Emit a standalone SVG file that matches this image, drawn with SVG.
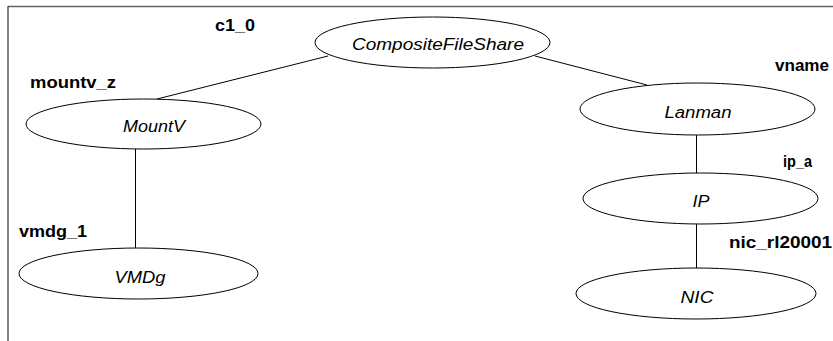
<svg xmlns="http://www.w3.org/2000/svg" width="833" height="341" viewBox="0 0 833 341">
<style>
.n{fill:#fff;stroke:#000;stroke-width:1}
.t{font-family:"Liberation Sans",Arial,sans-serif;font-style:italic;font-size:16px;fill:#000;text-anchor:middle}
.l{font-family:"Liberation Sans",Arial,sans-serif;font-weight:bold;font-size:16px;fill:#000}
.e{stroke:#000;stroke-width:1;fill:none}
</style>
<rect width="833" height="341" fill="#fff"/>
<g id="frame">
<line x1="8" y1="6.5" x2="833" y2="6.5" stroke="#666" stroke-width="1.5"/>
<line x1="8" y1="6" x2="8" y2="341" stroke="#333" stroke-width="1.2"/>
</g>
<g id="connectors">
<line class="e" x1="328" y1="56" x2="157" y2="99"/>
<line class="e" x1="535" y1="56" x2="647" y2="85"/>
<line class="e" x1="135.5" y1="149" x2="135.5" y2="248"/>
<line class="e" x1="696.5" y1="135" x2="696.5" y2="173"/>
<line class="e" x1="696.5" y1="224" x2="696.5" y2="268"/>
</g>
<g id="c1_0">
<ellipse class="n" cx="432.5" cy="42.5" rx="117.5" ry="25.5"/>
<text class="t" x="438" y="50" textLength="172" lengthAdjust="spacingAndGlyphs">CompositeFileShare</text>
<text class="l" x="215" y="31" textLength="40" lengthAdjust="spacingAndGlyphs">c1_0</text>
</g>
<g id="mountv_z">
<ellipse class="n" cx="143.5" cy="124" rx="117.5" ry="25"/>
<text class="t" x="154" y="131.5" textLength="62" lengthAdjust="spacingAndGlyphs">MountV</text>
<text class="l" x="30" y="88" textLength="86" lengthAdjust="spacingAndGlyphs">mountv_z</text>
</g>
<g id="vmdg_1">
<ellipse class="n" cx="138.5" cy="273.5" rx="119.5" ry="25.5"/>
<text class="t" x="140" y="283" textLength="51" lengthAdjust="spacingAndGlyphs">VMDg</text>
<text class="l" x="19" y="236.5" textLength="68" lengthAdjust="spacingAndGlyphs">vmdg_1</text>
</g>
<g id="vname">
<ellipse class="n" cx="697.5" cy="109" rx="117.5" ry="26"/>
<text class="t" x="698" y="118" textLength="67" lengthAdjust="spacingAndGlyphs">Lanman</text>
<text class="l" x="775" y="70.5" textLength="54" lengthAdjust="spacingAndGlyphs">vname</text>
</g>
<g id="ip_a">
<ellipse class="n" cx="700.5" cy="198.5" rx="117.5" ry="25.5"/>
<text class="t" x="701" y="207" textLength="17" lengthAdjust="spacingAndGlyphs">IP</text>
<text class="l" x="783" y="166.5" textLength="29" lengthAdjust="spacingAndGlyphs">ip_a</text>
</g>
<g id="nic_rl20001">
<ellipse class="n" cx="696" cy="293.5" rx="120" ry="25.5"/>
<text class="t" x="697" y="302.5" textLength="33" lengthAdjust="spacingAndGlyphs">NIC</text>
<text class="l" x="729" y="248" textLength="103" lengthAdjust="spacingAndGlyphs">nic_rl20001</text>
</g>
</svg>
